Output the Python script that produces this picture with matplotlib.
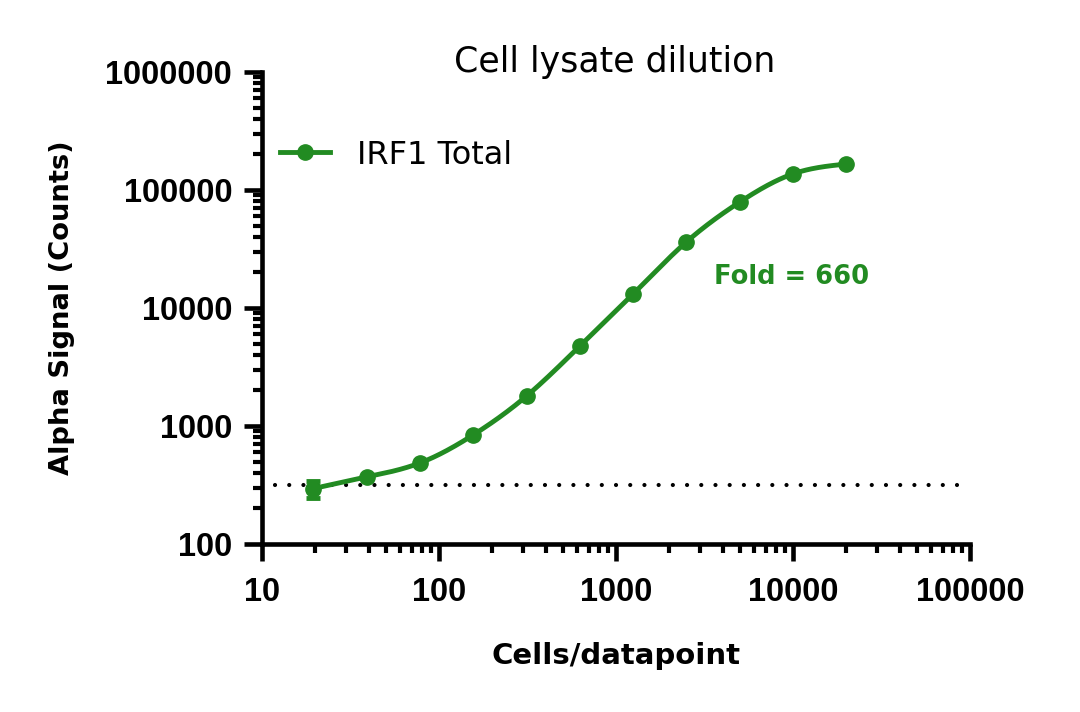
import numpy as np
import matplotlib
matplotlib.use("Agg")
import matplotlib.pyplot as plt
from matplotlib.ticker import LogLocator, NullFormatter, FixedLocator, FixedFormatter

# ---- data ----
cells = [19.5, 39, 78, 156, 312.5, 625, 1250, 2500, 5000, 10000, 20000]
signal = [295, 370, 486, 840, 1795, 4760, 13150, 36300, 79000, 137000, 166000]
signal_err = [50, 0, 0, 0, 0, 0, 0, 0, 0, 0, 0]
background = 316
bg_xrange = [11.8, 84000]
fold_text = "Fold = 660"
fold_pos = (9870, 18300)
series_name = "IRF1 Total"
title = "Cell lysate dilution"
xlabel = "Cells/datapoint"
ylabel = "Alpha Signal (Counts)"
xticks = [10, 100, 1000, 10000, 100000]
yticks = [100, 1000, 10000, 100000, 1000000]

GREEN = "#228B22"
LABEL_FONT = "DejaVu Sans"

def natural_spline(x, y, xs):
    x = np.asarray(x, float); y = np.asarray(y, float)
    n = len(x)
    h = np.diff(x)
    A = np.zeros((n, n)); b = np.zeros(n)
    A[0, 0] = 1; A[-1, -1] = 1
    for i in range(1, n - 1):
        A[i, i - 1] = h[i - 1]
        A[i, i] = 2 * (h[i - 1] + h[i])
        A[i, i + 1] = h[i]
        b[i] = 3 * ((y[i + 1] - y[i]) / h[i] - (y[i] - y[i - 1]) / h[i - 1])
    c = np.linalg.solve(A, b)
    out = np.empty_like(xs)
    for j, xv in enumerate(xs):
        i = min(max(np.searchsorted(x, xv) - 1, 0), n - 2)
        dx = xv - x[i]
        bi = (y[i + 1] - y[i]) / h[i] - h[i] * (2 * c[i] + c[i + 1]) / 3
        di = (c[i + 1] - c[i]) / (3 * h[i])
        out[j] = y[i] + bi * dx + c[i] * dx ** 2 + di * dx ** 3
    return out

fig = plt.figure(figsize=(10.8, 7.12), dpi=100)
ax = fig.add_axes([262 / 1080, 1 - 544 / 712, 708 / 1080, 472 / 712])
ax.set_xscale("log"); ax.set_yscale("log")
ax.set_xlim(10, 100000); ax.set_ylim(100, 1000000)

lx = np.log10(cells); ly = np.log10(signal)
xs = np.linspace(lx[0], lx[-1], 400)
ys = natural_spline(lx, ly, xs)
ax.plot(10 ** xs, 10 ** ys, color=GREEN, lw=3.5, zorder=3, solid_capstyle="round")
ax.errorbar(cells[:1], signal[:1], yerr=signal_err[:1], fmt="none", ecolor=GREEN,
            elinewidth=3.5, capsize=5, capthick=3.5, zorder=4)
ax.plot(cells, signal, "o", color=GREEN, ms=11, zorder=5)
ax.plot([], [], "-o", color=GREEN, lw=3.5, ms=11, label=series_name)

ax.plot(bg_xrange, [background, background], color="black",
        linestyle=(0, (0.01, 3.4)), lw=3, dash_capstyle="round", zorder=2)

ax.text(fold_pos[0], fold_pos[1], fold_text, color=GREEN, fontsize=18.5,
        fontweight="bold", family=LABEL_FONT, ha="center", va="center")

for s in ["top", "right"]:
    ax.spines[s].set_visible(False)
for s in ["left", "bottom"]:
    ax.spines[s].set_linewidth(3.3)

ax.xaxis.set_major_locator(FixedLocator(xticks))
ax.xaxis.set_major_formatter(FixedFormatter([str(t) for t in xticks]))
ax.yaxis.set_major_locator(FixedLocator(yticks))
ax.yaxis.set_major_formatter(FixedFormatter([str(t) for t in yticks]))
ax.xaxis.set_minor_locator(LogLocator(base=10, subs=np.arange(2, 10)))
ax.yaxis.set_minor_locator(LogLocator(base=10, subs=np.arange(2, 10)))
ax.xaxis.set_minor_formatter(NullFormatter())
ax.yaxis.set_minor_formatter(NullFormatter())
ax.tick_params(axis="x", which="major", length=12, width=3.3, direction="out", pad=12)
ax.tick_params(axis="y", which="major", length=13, width=3.3, direction="out", pad=8.5)
ax.tick_params(which="minor", length=6.5, width=3, direction="out")
for lab in ax.get_xticklabels() + ax.get_yticklabels():
    lab.set_fontfamily("Liberation Sans")
    lab.set_fontweight("bold")
    lab.set_fontsize(23.5)

fig.text(616 / 1080, 1 - 656 / 712, xlabel, fontsize=21, fontweight="bold",
         family=LABEL_FONT, ha="center", va="center")
fig.text(62 / 1080, 1 - 308 / 712, ylabel, fontsize=19.7, fontweight="bold",
         family=LABEL_FONT, ha="center", va="center", rotation=90)
fig.text(615 / 1080, 1 - 62 / 712, title, fontsize=25, family=LABEL_FONT,
         ha="center", va="center")

leg = ax.legend(loc="center left", bbox_to_anchor=(18 / 708, 0.824), frameon=False,
                handlelength=1.55, handletextpad=0.85, borderpad=0, borderaxespad=0,
                prop={"family": LABEL_FONT, "size": 23})

fig.savefig("out.png", dpi=100)
